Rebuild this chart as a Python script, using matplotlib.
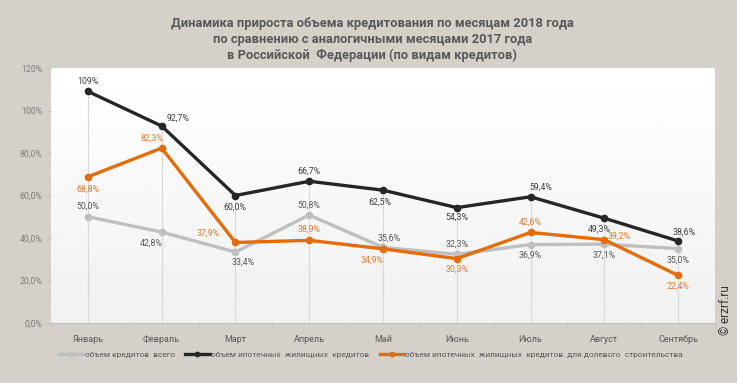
import matplotlib.pyplot as plt
import numpy as np

months = ['Январь', 'Февраль', 'Март', 'Апрель', 'Май', 'Июнь', 'Июль', 'Август', 'Сентябрь']
total = [50.0, 42.8, 33.4, 50.8, 35.6, 32.3, 36.9, 37.1, 35.0]
mortgage = [109.0, 92.7, 60.0, 66.7, 62.5, 54.3, 59.4, 49.3, 38.6]
shared = [68.8, 82.3, 37.9, 38.9, 34.9, 30.3, 42.6, 39.2, 22.4]
total_lbl = ['50,0%', '42,8%', '33,4%', '50,8%', '35,6%', '32,3%', '36,9%', '37,1%', '35,0%']
mortgage_lbl = ['109%', '92,7%', '60,0%', '66,7%', '62,5%', '54,3%', '59,4%', '49,3%', '38,6%']
shared_lbl = ['68,8%', '82,3%', '37,9%', '38,9%', '34,9%', '30,3%', '42,6%', '39,2%', '22,4%']
yticks = [0, 20, 40, 60, 80, 100, 120]
ytick_lbl = ['0,0%', '20,0%', '40,0%', '60,0%', '80,0%', '100%', '120%']

# label offsets in pixels (dx, dy), dy positive = up
total_off = [(0, 11), (-10, -11), (8, -10), (0, 10), (6, 9), (0, 10), (0, -11), (0, -11), (0, -12)]
mortgage_off = [(0, 10), (16, 8), (-1, -12), (0, 10), (-3, -12), (0, -10), (10, 10), (-5, -11), (6, 9)]
shared_off = [(0, -12), (-10, 10), (-27, 9), (0, 11), (-11, -11), (0, -11), (0, 10), (15, 4), (0, -11)]

BG = '#d5d1ca'
C_TOTAL = '#bfbfbf'
C_MORT = '#262626'
C_SHARED = '#e46c0a'

plt.rcParams['font.family'] = ['Roboto', 'DejaVu Sans']

fig = plt.figure(figsize=(7.37, 3.83), dpi=100, facecolor=BG)
ax = fig.add_axes([51 / 737, 60 / 383, 664 / 737, 255 / 383])
x = np.arange(len(months))

# gradient background of the plot area
grad = np.linspace(1.0, 0.945, 100).reshape(-1, 1)
ax.imshow(grad, cmap='gray', vmin=0, vmax=1, extent=[-0.5, 8.5, 0, 120],
          aspect='auto', zorder=0, origin='upper')

# drop lines
tops = np.max([total, mortgage, shared], axis=0)
ax.vlines(x, 0, tops, color='#d9d9d9', lw=0.8, zorder=1)

ax.plot(x, total, color=C_TOTAL, lw=2.4, marker='o', ms=4.5, zorder=3,
        label='объем кредитов  всего')
ax.plot(x, mortgage, color=C_MORT, lw=2.4, marker='o', ms=4.5, zorder=5,
        label='объем ипотечных  жилищных  кредитов')
ax.plot(x, shared, color=C_SHARED, lw=2.4, marker='o', ms=4.5, zorder=4,
        label='объем ипотечных  жилищных  кредитов  для долевого  строительства')

for vals, lbls, offs, col in [(total, total_lbl, total_off, '#595959'),
                              (mortgage, mortgage_lbl, mortgage_off, '#404040'),
                              (shared, shared_lbl, shared_off, '#e07b32')]:
    for xi, v, t, (dx, dy) in zip(x, vals, lbls, offs):
        ax.annotate(t, (xi, v), xytext=(dx, dy), textcoords='offset pixels',
                    ha='center', va='center', fontsize=6.3, color=col, zorder=6)

ax.set_xlim(-0.5, 8.5)
ax.set_ylim(0, 120)
ax.set_yticks(yticks)
ax.set_yticklabels(ytick_lbl, fontsize=6.3, color='#7f7f7f')
ax.set_xticks(x)
ax.set_xticklabels(months, fontsize=6.5, color='#595959')
ax.set_xticks(np.arange(-0.5, 9, 1), minor=True)
ax.tick_params(axis='x', which='major', length=0, pad=9)
ax.tick_params(axis='x', which='minor', length=3, color='#bfbfbf')
ax.tick_params(axis='y', length=3, color='#bfbfbf', pad=3)
for s in ['top', 'right', 'left']:
    ax.spines[s].set_visible(False)
ax.spines['bottom'].set_color('#bfbfbf')

fig.text(0.505, 0.955, 'Динамика прироста объема кредитования по месяцам 2018 года\n'
         'по сравнению с аналогичными месяцами 2017 года\n'
         'в Российской  Федерации (по видам кредитов)',
         ha='center', va='top', fontsize=9.3, fontweight='bold', color='#595959',
         linespacing=1.25)

leg = fig.legend(loc='center', bbox_to_anchor=(371 / 737, 1 - 355 / 383), ncol=3,
                 frameon=False, fontsize=6.0, handlelength=2.9, columnspacing=1.3,
                 handletextpad=0.15, markerscale=0.7)
for t in leg.get_texts():
    t.set_color('#595959')

fig.text(0.985, 0.19, '© erzrf.ru', rotation=90, ha='center', va='center',
         fontsize=8.5, color='#333333')

fig.savefig('out.png', dpi=100, facecolor=BG)
